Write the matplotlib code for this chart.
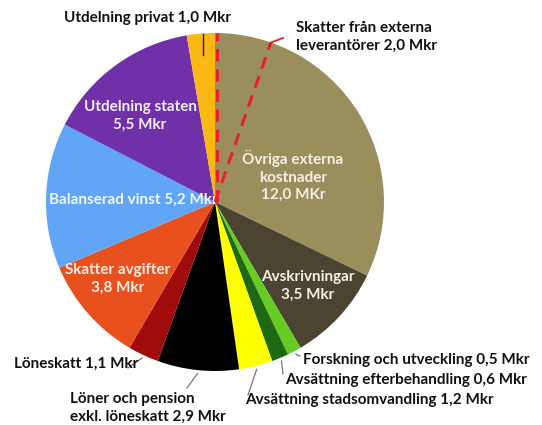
import numpy as np
import matplotlib
matplotlib.use("Agg")
import matplotlib.pyplot as plt

categories = ["Övriga externa kostnader", "Avskrivningar", "Forskning och utveckling",
              "Avsättning efterbehandling", "Avsättning stadsomvandling",
              "Löner och pension exkl. löneskatt", "Löneskatt", "Skatter avgifter",
              "Balanserad vinst", "Utdelning staten", "Utdelning privat"]
values = [12.0, 3.5, 0.5, 0.6, 1.2, 2.9, 1.1, 3.8, 5.2, 5.5, 1.0]
sub_value = 2.0  # Skatter från externa leverantörer (part of Övriga externa)
colors = ["#9B8E5D", "#4A4430", "#66CC22", "#1E6A14", "#FFFF00",
          "#000000", "#A00C0C", "#E8511D", "#60A5F6", "#7031A8", "#FBB714"]

W, H = 542, 425
fig = plt.figure(figsize=(W / 100, H / 100), dpi=100)
ax = fig.add_axes([0, 0, 1, 1])

cx, cy, R = 215, H - 202, 169
wedges, _ = ax.pie(values, colors=colors, startangle=90, counterclock=False,
                   center=(cx, cy), radius=R, frame=True,
                   wedgeprops=dict(linewidth=0))
ax.set_xlim(0, W)
ax.set_ylim(0, H)
ax.set_aspect("equal")
ax.axis("off")

FONT = "Lato"
fs = 11

def P(x, y):
    return x, H - y

def txt(x, y, s, color="#111111", ha="center", **kw):
    ax.text(*P(x, y), s, ha=ha, va="center", fontsize=fs, color=color,
            family=FONT, fontweight="bold", linespacing=1.3, **kw)

total = sum(values)
red = "#E8202A"
a0 = 90.0
a1 = 90.0 - sub_value / total * 360.0
for a in (a0, a1):
    r = np.deg2rad(a)
    ox = 2 if a == a0 else 0
    ax.plot([cx + ox, cx + ox + R * np.cos(r)], [cy, cy + R * np.sin(r)], color=red,
            lw=2.2, ls=(0, (4, 2.6)), solid_capstyle="butt", zorder=5)
r = np.deg2rad(a1)
ex, ey = cx + R * np.cos(r), cy + R * np.sin(r)
tx, ty = P(283, 38)
ax.plot([ex, tx], [ey, ty], color=red, lw=1.3, zorder=5)

def wedge_pt(i, rf, frac=0.5):
    w = wedges[i]
    ang = np.deg2rad(w.theta1 + (w.theta2 - w.theta1) * frac)
    return cx + R * rf * np.cos(ang), cy + R * rf * np.sin(ang)

# inside labels
light = "#F2EEF6"
txt(293, 176, "Övriga externa\nkostnader\n12,0 MKr", color="#F3F0E6")
txt(308, 286, "Avskrivningar\n3,5 Mkr", color="#F3F0E6")
txt(140, 116, "Utdelning staten\n5,5 Mkr", color=light)
txt(133, 200, "Balanserad vinst 5,2 Mkr", color="#F2F6FF")
txt(118, 279, "Skatter avgifter\n3,8 Mkr", color="#FBEDE6")

# outside labels
txt(148, 18, "Utdelning privat 1,0 Mkr")
txt(296, 37, "Skatter från externa\nleverantörer 2,0 Mkr", ha="left")
txt(303, 360, "Forskning och utveckling 0,5 Mkr", ha="left")
txt(285, 380, "Avsättning efterbehandling 0,6 Mkr", ha="left")
txt(245, 400, "Avsättning stadsomvandling 1,2 Mkr", ha="left")
txt(14, 364, "Löneskatt 1,1 Mkr", ha="left")
txt(70, 408, "Löner och pension\nexkl. löneskatt 2,9 Mkr", ha="left")

# leader lines
gray = "#777777"
x0, y0 = wedge_pt(10, 0.87, 0.5)
ax.plot([x0, x0], [y0, y0 + 21], color="#222222", lw=1.0, zorder=6)

lines = [(2, (300, 356)), (3, (283, 374)), (4, (248, 395)), (6, (128, 368)), (5, (187, 388))]
for i, (lx, ly) in lines:
    sx, sy = wedge_pt(i, 1.02, 0.5)
    ex, ey = P(lx, ly)
    ax.plot([sx, ex], [sy, ey], color=gray, lw=0.9)

fig.savefig("out.png", dpi=100, facecolor="white")
